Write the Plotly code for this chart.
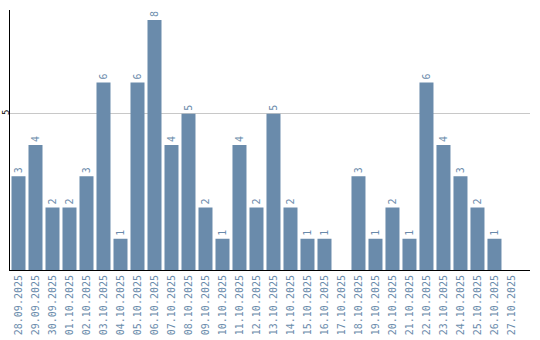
import plotly.graph_objects as go

dates = ["28.09.2025", "29.09.2025", "30.09.2025", "01.10.2025", "02.10.2025",
         "03.10.2025", "04.10.2025", "05.10.2025", "06.10.2025", "07.10.2025",
         "08.10.2025", "09.10.2025", "10.10.2025", "11.10.2025", "12.10.2025",
         "13.10.2025", "14.10.2025", "15.10.2025", "16.10.2025", "17.10.2025",
         "18.10.2025", "19.10.2025", "20.10.2025", "21.10.2025", "22.10.2025",
         "23.10.2025", "24.10.2025", "25.10.2025", "26.10.2025", "27.10.2025"]
values = [3, 4, 2, 2, 3, 6, 1, 6, 8, 4, 5, 2, 1, 4, 2, 5, 2, 1, 1, 0,
          3, 1, 2, 1, 6, 4, 3, 2, 1, 0]

bar_color = "#6a8bab"
labels = [str(v) if v > 0 else "" for v in values]

fig = go.Figure(go.Bar(
    x=dates, y=values, text=labels, textposition="outside", textangle=-90,
    cliponaxis=False,
    textfont=dict(family="DejaVu Sans Mono", size=10, color=bar_color),
    marker=dict(color=bar_color, line=dict(width=0)),
))

fig.update_layout(
    width=540, height=340,
    margin=dict(l=10, r=10, t=10, b=70),
    paper_bgcolor="white", plot_bgcolor="white",
    showlegend=False, bargap=0.176,
)
fig.update_xaxes(
    type="category", range=[-0.5, len(dates) + 0.09],
    tickangle=-90, showline=True, linecolor="black", linewidth=1,
    tickfont=dict(family="DejaVu Sans Mono", size=10, color=bar_color),
    showgrid=False, ticks="", ticklen=0, automargin=False,
)
fig.update_yaxes(
    range=[0, 8.32], tickvals=[5], ticktext=["5"], tickangle=-90,
    showline=True, linecolor="black", linewidth=1,
    showgrid=True, gridcolor="#c8c8c8", gridwidth=1, zeroline=False,
    tickfont=dict(family="DejaVu Sans Mono", size=9, color="black"),
    ticks="", ticklen=0, automargin=False, ticklabelstandoff=-4,
)

fig.write_html("out.html")
